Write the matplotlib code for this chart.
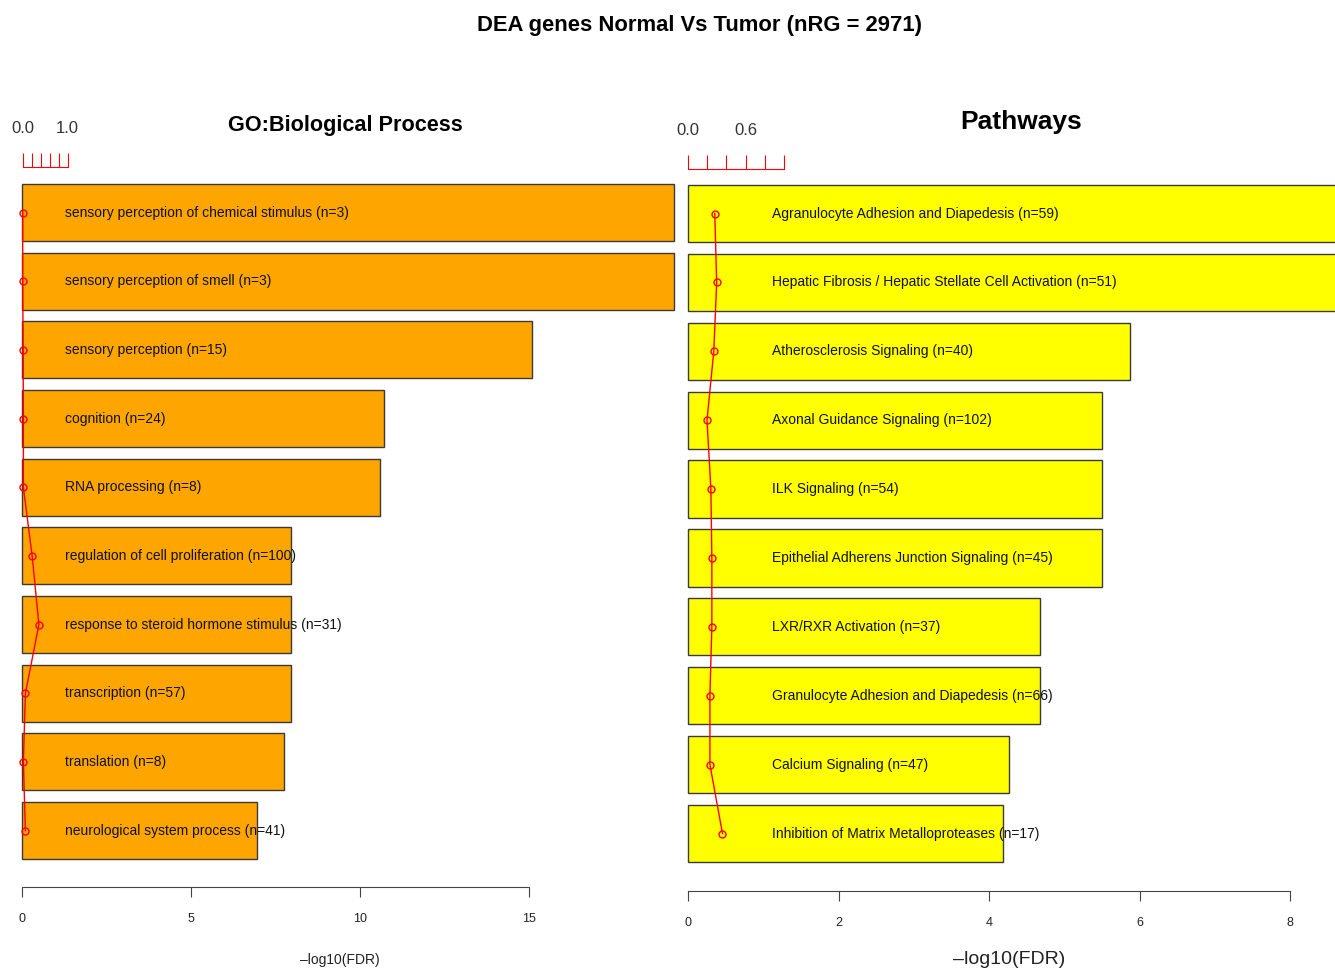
import matplotlib
matplotlib.use("Agg")
from matplotlib import pyplot as plt
from matplotlib import font_manager

# data
go_terms = [
    "sensory perception of chemical stimulus (n=3)",
    "sensory perception of smell (n=3)",
    "sensory perception (n=15)",
    "cognition (n=24)",
    "RNA processing (n=8)",
    "regulation of cell proliferation (n=100)",
    "response to steroid hormone stimulus (n=31)",
    "transcription (n=57)",
    "translation (n=8)",
    "neurological system process (n=41)",
]
go_fdr = [19.3, 19.3, 15.1, 10.7, 10.6, 7.95, 7.95, 7.95, 7.75, 6.95]
go_ratio = [0.0, 0.0, 0.01, 0.015, 0.015, 0.21, 0.36, 0.06, 0.015, 0.06]

pw_terms = [
    "Agranulocyte Adhesion and Diapedesis (n=59)",
    "Hepatic Fibrosis / Hepatic Stellate Cell Activation (n=51)",
    "Atherosclerosis Signaling (n=40)",
    "Axonal Guidance Signaling (n=102)",
    "ILK Signaling (n=54)",
    "Epithelial Adherens Junction Signaling (n=45)",
    "LXR/RXR Activation (n=37)",
    "Granulocyte Adhesion and Diapedesis (n=66)",
    "Calcium Signaling (n=47)",
    "Inhibition of Matrix Metalloproteases (n=17)",
]
pw_fdr = [8.8, 8.8, 5.88, 5.5, 5.5, 5.5, 4.68, 4.68, 4.26, 4.18]
pw_ratio = [0.28, 0.30, 0.27, 0.20, 0.24, 0.25, 0.25, 0.23, 0.23, 0.36]

names = {f.name for f in font_manager.fontManager.ttflist}
narrow = "Liberation Sans Narrow" if "Liberation Sans Narrow" in names else "Liberation Sans"
plt.rcParams["font.family"] = [narrow, "DejaVu Sans"]

W, H = 1335, 969
fig = plt.figure(figsize=(W / 100, H / 100), dpi=100)


def px_axes(x0, y0, x1, y1):
    return fig.add_axes([x0 / W, 1 - y1 / H, (x1 - x0) / W, (y1 - y0) / H])


def panel(ax, terms, fdr, ratio, color, xlim, ylim, rlim, xticks, rticks, rlabels,
          label_x, tick_fs, xlabel_fs, xlabel_pad):
    ypos = list(range(len(terms)))
    ax.barh(ypos, fdr, height=0.83, color=color, edgecolor="#3a3a3a", linewidth=1.0, zorder=2)
    for y, t in zip(ypos, terms):
        ax.text(label_x, y, t, va="center", ha="left", fontsize=10, color="#111111", zorder=5)
    ax.set_xlim(*xlim)
    ax.set_ylim(*ylim)
    ax.set_yticks([])
    for s in ("top", "right", "left"):
        ax.spines[s].set_visible(False)
    ax.spines["bottom"].set_bounds(xticks[0], xticks[-1])
    ax.spines["bottom"].set_color("#444444")
    ax.set_xticks(xticks)
    ax.tick_params(axis="x", length=7, color="#444444", labelsize=tick_fs, labelcolor="#222222", pad=12)
    ax.set_xlabel("\u2013log10(FDR)", fontsize=xlabel_fs, color="#222222", labelpad=xlabel_pad)

    top = ax.twiny()
    top.set_xlim(*rlim)
    top.set_ylim(*ylim)
    top.plot(ratio, ypos, color="red", linewidth=1.0, marker="o", markersize=5,
             markerfacecolor="none", markeredgecolor="red", zorder=4)
    for s in ("bottom", "right", "left"):
        top.spines[s].set_visible(False)
    top.spines["top"].set_color("red")
    top.spines["top"].set_bounds(rticks[0], rticks[-1])
    top.set_xticks(rticks)
    top.set_xticklabels(rlabels)
    top.tick_params(axis="x", length=10, color="red", labelsize=12, labelcolor="#333333", pad=12)
    top.set_yticks([])
    return top


rticks = [0.0, 0.2, 0.4, 0.6, 0.8, 1.0]

ax1 = px_axes(0, 166.7, 680, 887)
panel(ax1, go_terms, go_fdr, go_ratio, "#FFA500",
      xlim=(-22 / 33.8, 658 / 33.8), ylim=(9.82, -0.667),
      rlim=(-22.7 / 45.0, 657.3 / 45.0),
      xticks=[0, 5, 10, 15], rticks=rticks, rlabels=["0.0", "", "", "", "", "1.0"],
      label_x=1.27, tick_fs=9, xlabel_fs=10, xlabel_pad=20)

ax2 = px_axes(683, 169, 1335, 890.7)
panel(ax2, pw_terms, pw_fdr, pw_ratio, "#FFFF00",
      xlim=(-5 / 75.25, 647 / 75.25), ylim=(9.83, -0.646),
      rlim=(-4.7 / 96.6, 647.3 / 96.6),
      xticks=[0, 2, 4, 6, 8], rticks=rticks, rlabels=["0.0", "", "", "0.6", "", ""],
      label_x=1.12, tick_fs=9, xlabel_fs=14, xlabel_pad=16)

fig.text(345 / W, 1 - 125 / H, "GO:Biological Process", ha="center", va="center",
         fontsize=15.6, fontweight="bold")
fig.text(1021 / W, 1 - 122 / H, "Pathways", ha="center", va="center",
         fontsize=19, fontweight="bold")
fig.text(700 / W, 1 - 25 / H, "DEA genes Normal Vs Tumor (nRG = 2971)", ha="center", va="center",
         fontsize=15.8, fontweight="bold")

fig.savefig("out.png", dpi=100)
